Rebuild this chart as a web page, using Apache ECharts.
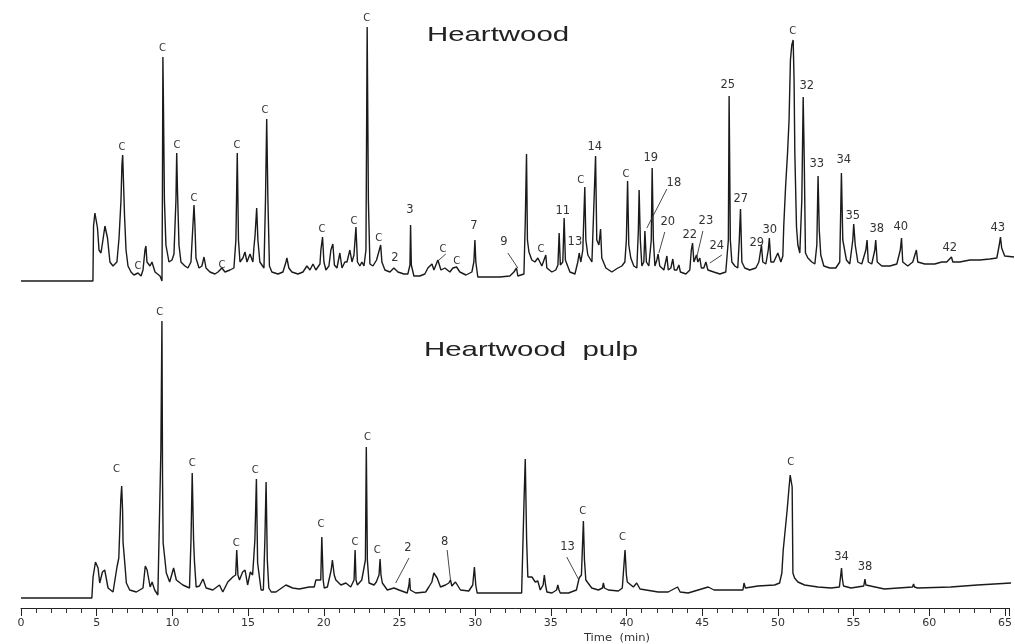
<!DOCTYPE html>
<html>
<head>
<meta charset="utf-8">
<title>Heartwood / Heartwood pulp</title>
<script src="https://cdn.jsdelivr.net/npm/echarts/dist/echarts.min.js"></script>
<style>
    html, body { margin: 0; padding: 0; background: #fff; }
    #chart { width: 1015px; height: 644px; }
</style>
</head>
<body>
<div id="chart"></div>
<script>
// 时间刻度 (min)
var timeTicks = [0, 5, 10, 15, 20, 25, 30, 35, 40, 45, 50, 55, 60, 65];

// Heartwood 色谱 [时间, 强度]
var topTrace = [
    [0, 0], [4.74, 0], [4.78, 55], [4.87, 68], [4.94, 70], [5.04, 53], [5.14, 31], [5.27, 28], [5.40, 41], [5.53, 55],
    [5.60, 57], [5.70, 43], [5.86, 19], [6.06, 15], [6.32, 19], [6.46, 43], [6.52, 45], [6.59, 81], [6.65, 116], [6.70, 126],
    [6.75, 101], [6.82, 66], [6.92, 31], [7.05, 15], [7.25, 9], [7.44, 6], [7.71, 8], [7.91, 5], [8.04, 11], [8.17, 31],
    [8.23, 35], [8.30, 19], [8.50, 15], [8.63, 19], [8.83, 9], [9.16, 5], [9.29, 0], [9.32, 91], [9.35, 224], [9.39, 171],
    [9.45, 81], [9.55, 36], [9.75, 19], [9.95, 21], [10.08, 27], [10.14, 29], [10.21, 81], [10.26, 128], [10.31, 91], [10.41, 36],
    [10.54, 19], [10.80, 15], [11.00, 13], [11.20, 19], [11.33, 56], [11.40, 76], [11.46, 56], [11.53, 23], [11.73, 13], [11.92, 15],
    [12.06, 24], [12.19, 13], [12.45, 9], [12.78, 7], [12.98, 9], [13.24, 13], [13.44, 9], [13.77, 11], [14.03, 13], [14.16, 41],
    [14.25, 128], [14.33, 41], [14.43, 19], [14.62, 23], [14.76, 29], [14.89, 19], [15.09, 27], [15.20, 28], [15.28, 19], [15.35, 34],
    [15.42, 45], [15.53, 73], [15.61, 41], [15.74, 19], [16.01, 13], [16.11, 81], [16.19, 162], [16.27, 81], [16.37, 15], [16.53, 9],
    [16.93, 7], [17.26, 9], [17.46, 19], [17.52, 23], [17.65, 13], [17.85, 9], [18.25, 7], [18.58, 9], [18.84, 15], [19.04, 11],
    [19.24, 17], [19.43, 11], [19.70, 17], [19.76, 31], [19.87, 44], [19.96, 19], [20.09, 11], [20.29, 15], [20.42, 31], [20.55, 37],
    [20.65, 16], [20.82, 13], [21.01, 28], [21.15, 13], [21.34, 19], [21.48, 19], [21.67, 31], [21.81, 19], [21.94, 26], [22.07, 54],
    [22.17, 19], [22.33, 15], [22.46, 19], [22.60, 15], [22.73, 31], [22.81, 254], [22.89, 81], [22.99, 17], [23.19, 15], [23.43, 21],
    [23.52, 23], [23.70, 36], [23.78, 19], [23.98, 11], [24.31, 9], [24.57, 13], [24.70, 15], [24.84, 9], [25.23, 7], [25.49, 7],
    [25.63, 16], [25.67, 56], [25.72, 16], [25.89, 5], [26.28, 5], [26.61, 7], [26.81, 13], [27.08, 17], [27.21, 11], [27.47, 21],
    [27.67, 11], [27.93, 13], [28.26, 9], [28.46, 13], [28.70, 14], [28.92, 9], [29.32, 6], [29.71, 9], [29.84, 19], [29.91, 41],
    [29.97, 19], [30.10, 4], [30.90, 4], [31.55, 4], [32.21, 5], [32.48, 9], [32.65, 13], [32.74, 5], [33.14, 7], [33.23, 61],
    [33.31, 127], [33.37, 41], [33.47, 29], [33.53, 31], [33.66, 21], [33.86, 19], [34.06, 23], [34.19, 23], [34.32, 15], [34.45, 17],
    [34.58, 26], [34.65, 13], [34.98, 9], [35.24, 11], [35.38, 16], [35.46, 48], [35.54, 16], [35.70, 19], [35.79, 63], [35.87, 21],
    [36.17, 9], [36.50, 7], [36.69, 19], [36.78, 28], [36.89, 19], [37.02, 31], [37.15, 94], [37.22, 41], [37.35, 26], [37.62, 19],
    [37.75, 19], [37.86, 125], [37.94, 41], [38.08, 36], [38.19, 52], [38.27, 23], [38.54, 13], [38.93, 9], [39.33, 13], [39.59, 15],
    [39.79, 19], [39.89, 41], [39.97, 100], [40.05, 36], [40.18, 23], [40.38, 15], [40.58, 13], [40.68, 51], [40.73, 91], [40.81, 41],
    [40.91, 15], [41.04, 19], [41.11, 50], [41.21, 19], [41.37, 15], [41.53, 41], [41.59, 113], [41.67, 41], [41.77, 15], [41.90, 21],
    [41.98, 27], [42.09, 15], [42.36, 11], [42.56, 25], [42.65, 11], [42.82, 13], [42.95, 22], [43.05, 11], [43.21, 11], [43.35, 16],
    [43.45, 9], [43.81, 7], [44.07, 11], [44.17, 31], [44.25, 38], [44.34, 19], [44.51, 26], [44.60, 19], [44.73, 23], [44.83, 13],
    [44.99, 13], [45.13, 19], [45.26, 11], [45.65, 9], [46.05, 7], [46.44, 9], [46.61, 41], [46.66, 185], [46.74, 41], [46.84, 19],
    [47.04, 15], [47.23, 13], [47.33, 41], [47.41, 72], [47.50, 19], [47.69, 13], [48.02, 11], [48.42, 13], [48.62, 19], [48.79, 36],
    [48.88, 19], [49.08, 17], [49.24, 31], [49.31, 43], [49.41, 19], [49.60, 19], [49.87, 28], [50.07, 19], [50.20, 25], [50.26, 55],
    [50.38, 94], [50.51, 128], [50.61, 161], [50.70, 221], [50.79, 236], [50.88, 241], [50.94, 201], [50.99, 128], [51.10, 54], [51.19, 36],
    [51.32, 28], [51.45, 81], [51.54, 184], [51.61, 121], [51.69, 28], [51.85, 23], [52.11, 19], [52.31, 17], [52.44, 36], [52.52, 105],
    [52.60, 51], [52.70, 26], [52.90, 15], [53.29, 13], [53.69, 13], [53.95, 19], [54.06, 108], [54.15, 41], [54.39, 21], [54.61, 17],
    [54.81, 41], [54.87, 57], [54.97, 36], [55.14, 19], [55.40, 17], [55.67, 31], [55.75, 41], [55.83, 19], [56.06, 17], [56.26, 31],
    [56.32, 41], [56.42, 19], [56.72, 15], [57.25, 15], [57.71, 17], [57.94, 31], [58.02, 43], [58.10, 19], [58.43, 15], [58.76, 19],
    [59.00, 31], [59.09, 19], [59.55, 17], [60.21, 17], [60.67, 19], [61.00, 19], [61.31, 24], [61.40, 19], [61.86, 19], [62.52, 21],
    [63.18, 21], [63.83, 22], [64.30, 23], [64.46, 36], [64.54, 44], [64.62, 33], [64.82, 25], [65.48, 24]
];

// Heartwood pulp 色谱 [时间, 强度]
var bottomTrace = [
    [0, 0], [4.68, 0], [4.76, 21], [4.92, 36], [5.09, 30], [5.20, 15], [5.38, 26], [5.53, 28], [5.75, 10], [6.08, 6],
    [6.34, 31], [6.46, 40], [6.52, 66], [6.59, 98], [6.65, 112], [6.71, 88], [6.74, 56], [6.85, 36], [6.96, 15], [7.18, 8],
    [7.62, 6], [8.06, 10], [8.21, 32], [8.33, 28], [8.53, 11], [8.66, 16], [8.83, 8], [9.04, 3], [9.16, 3], [9.24, 148],
    [9.31, 277], [9.35, 118], [9.39, 55], [9.60, 25], [9.82, 16], [9.95, 23], [10.08, 30], [10.26, 18], [10.69, 13], [11.13, 10],
    [11.23, 58], [11.31, 125], [11.40, 58], [11.46, 36], [11.57, 11], [11.79, 12], [12.02, 19], [12.23, 10], [12.67, 8], [13.11, 13],
    [13.33, 6], [13.66, 16], [13.99, 21], [14.18, 23], [14.25, 48], [14.33, 23], [14.43, 18], [14.64, 26], [14.80, 28], [14.97, 13],
    [15.15, 26], [15.30, 23], [15.45, 58], [15.55, 119], [15.63, 35], [15.86, 8], [16.01, 8], [16.11, 58], [16.19, 116], [16.27, 38],
    [16.37, 10], [16.53, 6], [16.84, 6], [17.50, 13], [17.94, 10], [18.38, 9], [19.04, 11], [19.37, 11], [19.48, 18], [19.80, 18],
    [19.87, 61], [19.96, 18], [20.03, 10], [20.24, 11], [20.49, 28], [20.57, 38], [20.69, 23], [20.80, 18], [21.13, 13], [21.46, 15],
    [21.78, 11], [22.00, 18], [22.07, 48], [22.13, 18], [22.22, 13], [22.51, 18], [22.75, 38], [22.81, 151], [22.88, 38], [22.99, 15],
    [23.32, 13], [23.47, 16], [23.65, 23], [23.72, 39], [23.78, 23], [23.87, 15], [24.20, 8], [24.64, 10], [24.97, 8], [25.51, 5],
    [25.63, 13], [25.67, 20], [25.72, 8], [26.07, 5], [26.73, 6], [26.94, 11], [27.14, 16], [27.27, 25], [27.49, 20], [27.71, 11],
    [28.04, 13], [28.26, 15], [28.37, 18], [28.46, 12], [28.70, 16], [29.03, 8], [29.58, 7], [29.84, 13], [29.95, 31], [30.04, 13],
    [30.13, 5], [30.90, 5], [32.21, 5], [33.07, 5], [33.23, 98], [33.31, 139], [33.40, 58], [33.48, 21], [33.75, 21], [33.97, 16],
    [34.14, 17], [34.30, 8], [34.49, 13], [34.57, 23], [34.65, 13], [34.74, 6], [35.07, 5], [35.38, 8], [35.46, 13], [35.54, 8],
    [35.62, 5], [36.17, 5], [36.69, 8], [36.87, 20], [37.02, 23], [37.15, 77], [37.22, 38], [37.31, 18], [37.70, 10], [38.14, 8],
    [38.41, 10], [38.47, 15], [38.54, 10], [38.80, 8], [39.46, 7], [39.72, 10], [39.90, 48], [39.99, 23], [40.05, 16], [40.45, 11],
    [40.67, 15], [40.89, 9], [42.09, 6], [42.75, 6], [43.37, 11], [43.54, 6], [44.07, 5], [44.73, 8], [45.39, 11], [45.78, 8],
    [46.49, 8], [47.69, 8], [47.76, 15], [47.85, 10], [48.68, 12], [49.78, 13], [50.11, 15], [50.26, 25], [50.35, 48], [50.48, 68],
    [50.61, 88], [50.72, 108], [50.81, 123], [50.88, 125], [50.94, 111], [50.99, 25], [51.10, 20], [51.32, 16], [51.76, 13], [52.64, 11],
    [53.51, 10], [54.06, 11], [54.15, 23], [54.20, 30], [54.25, 20], [54.33, 12], [54.83, 10], [55.67, 12], [55.75, 19], [55.81, 13],
    [55.86, 11], [57.03, 9], [58.89, 11], [58.96, 14], [59.02, 11], [59.22, 10], [61.41, 11], [63.18, 13], [65.48, 15]
];

// 峰标注 [文字, 时间, 强度]
var topLabels = [
    ['C', 6.65, 134], ['C', 7.71, 15], ['C', 9.32, 233], ['C', 10.28, 136], ['C', 11.40, 83], ['C', 13.24, 16],
    ['C', 14.23, 136], ['C', 16.07, 171], ['C', 19.83, 52], ['C', 21.94, 60], ['C', 22.79, 263], ['C', 23.58, 43],
    ['2', 24.64, 23], ['3', 25.63, 71], ['C', 27.80, 32], ['C', 28.72, 20], ['7', 29.84, 55], ['9', 31.82, 39],
    ['C', 34.26, 32], ['11', 35.70, 70], ['13', 36.50, 39], ['C', 36.89, 101], ['14', 37.81, 134], ['C', 39.86, 107],
    ['19', 41.50, 123], ['18', 43.02, 98], ['20', 42.62, 59], ['22', 44.07, 46], ['23', 45.13, 60], ['24', 45.85, 35],
    ['25', 46.57, 196], ['27', 47.43, 82], ['29', 48.48, 38], ['30', 49.34, 51], ['C', 50.86, 250], ['32', 51.78, 195],
    ['33', 52.44, 117], ['34', 54.22, 121], ['35', 54.81, 65], ['38', 56.39, 52], ['40', 57.97, 54], ['42', 61.20, 33],
    ['43', 64.36, 53]
];
var bottomLabels = [
    ['C', 6.30, 129], ['C', 9.16, 286], ['C', 11.31, 135], ['C', 14.21, 55], ['C', 15.48, 128], ['C', 19.81, 74],
    ['C', 22.07, 56], ['C', 22.88, 161], ['C', 23.54, 48], ['2', 25.56, 50], ['8', 27.98, 56], ['13', 36.10, 51],
    ['C', 37.11, 87], ['C', 39.74, 61], ['C', 50.84, 136], ['34', 54.20, 41], ['38', 55.75, 31]
];

// 引线 [起点时间, 起点强度, 终点时间, 终点强度]
var topLeaders = [
    [27.99, 27, 27.47, 20], [32.08, 28, 32.74, 13], [42.56, 92, 41.24, 53],
    [42.42, 49, 42.03, 28], [44.93, 50, 44.53, 24], [46.18, 26, 45.39, 18]
];
var bottomLeaders = [
    [25.63, 40, 24.75, 15], [28.15, 48, 28.37, 18], [36.05, 41, 36.82, 19]
];

var FONT = 'DejaVu Sans';
var INK = '#1a1a1a';

function labelSeries(list, idx) {
    return {
        type: 'scatter',
        xAxisIndex: idx,
        yAxisIndex: idx,
        symbol: 'circle',
        symbolSize: 1,
        silent: true,
        itemStyle: { opacity: 0 },
        data: list.map(function (l) {
            return {
                name: l[0],
                value: [l[1], l[2]],
                label: { fontSize: l[0] === 'C' ? 10 : 11.5 }
            };
        }),
        label: {
            show: true,
            position: 'inside',
            formatter: '{b}',
            color: '#333',
            fontFamily: FONT,
            opacity: 1
        },
        z: 5
    };
}

function leaderLines(list) {
    return {
        silent: true,
        symbol: ['none', 'none'],
        label: { show: false },
        lineStyle: { color: '#333', width: 0.9, type: 'solid' },
        data: list.map(function (d) {
            return [{ coord: [d[0], d[1]] }, { coord: [d[2], d[3]] }];
        })
    };
}

function traceSeries(data, idx, leaders) {
    return {
        type: 'line',
        xAxisIndex: idx,
        yAxisIndex: idx,
        data: data,
        showSymbol: false,
        clip: false,
        lineStyle: { color: INK, width: 1.4 },
        markLine: leaderLines(leaders),
        z: 3
    };
}

var dom = document.getElementById('chart');
var myChart = echarts.init(dom);

var option = {
    animation: false,
    backgroundColor: '#fff',
    grid: [
        { left: 21, right: 3, top: 11, bottom: 363 },
        { left: 21, right: 3, top: 308, bottom: 36 }
    ],
    xAxis: [
        { gridIndex: 0, type: 'value', min: 0, max: 65.3, show: false },
        {
            gridIndex: 1,
            type: 'value',
            min: timeTicks[0],
            max: 65.3,
            interval: 5,
            splitLine: { show: false },
            axisLine: { show: true, onZero: false, lineStyle: { color: '#222', width: 1 } },
            axisTick: { show: true, length: 8, lineStyle: { color: '#222' } },
            minorTick: { show: true, splitNumber: 5, length: 5, lineStyle: { color: '#333' } },
            axisLabel: {
                showMaxLabel: false,
                margin: 10,
                color: '#333',
                fontFamily: FONT,
                fontSize: 11,
                formatter: function (v) {
                    return timeTicks.indexOf(v) >= 0 ? String(v) : '';
                }
            }
        }
    ],
    yAxis: [
        { gridIndex: 0, type: 'value', min: 0, max: 270, show: false },
        { gridIndex: 1, type: 'value', min: -10, max: 290, show: false }
    ],
    graphic: [
        {
            type: 'text', x: 498, y: 35, scaleX: 1.4,
            style: { text: 'Heartwood', fill: '#222', font: '21px "Liberation Sans"', textAlign: 'center', textVerticalAlign: 'middle' }
        },
        {
            type: 'text', x: 531, y: 350, scaleX: 1.4,
            style: { text: 'Heartwood  pulp', fill: '#222', font: '21px "Liberation Sans"', textAlign: 'center', textVerticalAlign: 'middle' }
        },
        {
            type: 'text', x: 617, y: 638, scaleX: 1.15,
            style: { text: 'Time  (min)', fill: '#333', font: '10px "DejaVu Sans"', textAlign: 'center', textVerticalAlign: 'middle' }
        }
    ],
    series: [
        traceSeries(topTrace, 0, topLeaders),
        traceSeries(bottomTrace, 1, bottomLeaders),
        labelSeries(topLabels, 0),
        labelSeries(bottomLabels, 1)
    ]
};

myChart.setOption(option);
</script>
</body>
</html>
